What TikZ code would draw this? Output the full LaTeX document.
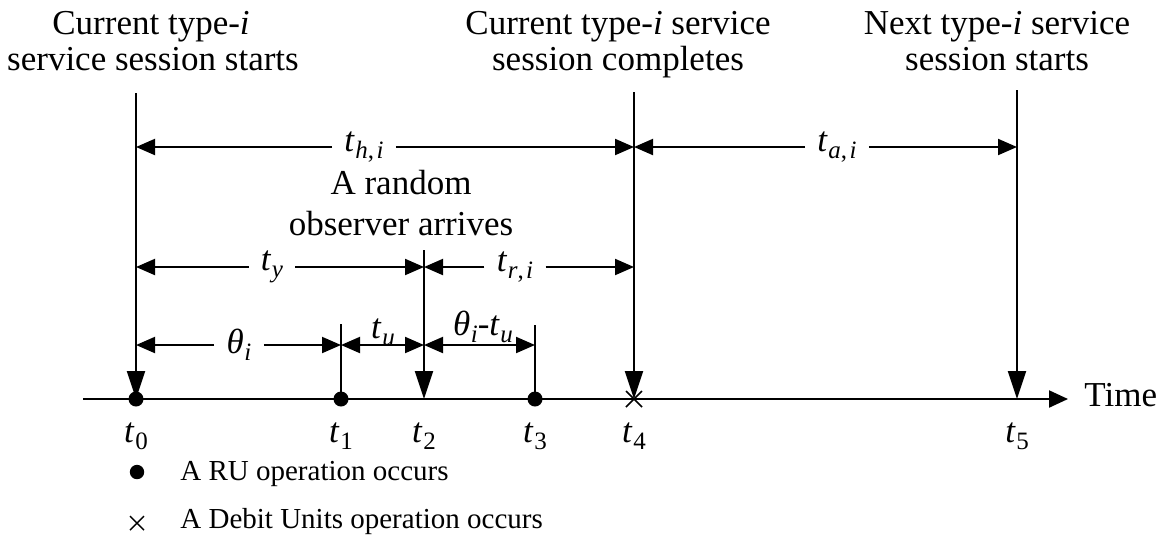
\documentclass[tikz,border=0pt]{standalone}
\usepackage{fontspec}
\setmainfont{Liberation Serif}
\usetikzlibrary{arrows.meta,calc}

% italic symbol with a lowered subscript
\newcommand{\sym}[2]{\textit{#1}\kern0.3pt\raisebox{-0.45ex}{\fontsize{12.5}{12.5}\selectfont #2}}
% comma-separated italic subscript pair
\newcommand{\pair}[2]{\textit{#1},\kern1.2pt\textit{#2}}

\begin{document}
\begin{tikzpicture}[x=0.5pt,y=-0.5pt,
  big/.style={font=\fontsize{17.5}{18}\selectfont},
  small/.style={font=\fontsize{14.5}{15}\selectfont},
  title/.style={big,anchor=base,inner sep=0pt},
  lab/.style={big,inner ysep=0pt,inner xsep=6pt},
  toplab/.style={big,anchor=base,inner sep=0pt},
  ticklab/.style={big,anchor=base,inner sep=0pt},
  axisline/.style={line width=1.1pt,-{Triangle[length=9.5pt,width=8.5pt]}},
  tickline/.style={line width=1pt},
  varr/.style={line width=1pt,-{Triangle[length=14pt,width=9pt]}},
  harr/.style={line width=1pt,-{Triangle[length=9.5pt,width=8pt]}},
  dharr/.style={line width=1pt,{Triangle[length=9.5pt,width=8pt]}-{Triangle[length=9.5pt,width=8pt]}},
  dot/.style={fill=black},
]
\useasboundingbox (0,0) rectangle (1172,537);

% points on the time axis
\coordinate (start) at (83,399);
\coordinate (p0) at (136,399);
\coordinate (p1) at (341,399);
\coordinate (p2) at (424,399);
\coordinate (p3) at (535,399);
\coordinate (p4) at (634,399);
\coordinate (p5) at (1017,399);
\coordinate (tip) at (1068,399);

% upper ends of the event lines
\coordinate (top0) at (136,93);
\coordinate (top1) at (341,324);
\coordinate (top2) at (424,250);
\coordinate (top3) at (535,325);
\coordinate (top4) at (634,92);
\coordinate (top5) at (1017,90);

% heights of the interval arrows
\coordinate (lvA) at (0,147);
\coordinate (lvB) at (0,267);
\coordinate (lvC) at (0,345);

% event captions
\node[title] (c0a) at (151,34) {Current type-\textit{i}};
\node[title] (c0b) at (153,70) {service session starts};
\node[title] (c4a) at (618,34) {Current type-\textit{i} service};
\node[title] (c4b) at (618,70) {session completes};
\node[title] (c5a) at (997,34) {Next type-\textit{i} service};
\node[title] (c5b) at (997,70) {session starts};
\node[title] (obsa) at (401,194) {A random};
\node[title] (obsb) at (401,235) {observer arrives};

% time axis
\draw[axisline] (start) -- (tip);
\node[big,anchor=base west,inner sep=0pt] (time) at (1084,406) {Time};

% event lines
\draw[varr] (top0) -- (p0);
\draw[varr] (top2) -- (p2);
\draw[varr] (top4) -- (p4);
\draw[varr] (top5) -- (p5);
\draw[tickline] (top1) -- (p1);
\draw[tickline] (top3) -- (p3);

% operation markers
\fill[dot] (p0) circle[radius=3.75pt];
\fill[dot] (p1) circle[radius=3.75pt];
\fill[dot] (p3) circle[radius=3.75pt];
\draw[line width=0.8pt] ($(p4)+(-8,-8)$) -- ($(p4)+(8,8)$)
                        ($(p4)+(-8,8)$) -- ($(p4)+(8,-8)$);

% axis labels
\node[ticklab] (l0) at (136,442) {\sym{t}{0}};
\node[ticklab] (l1) at (341,442) {\sym{t}{1}};
\node[ticklab] (l2) at (424,442) {\sym{t}{2}};
\node[ticklab] (l3) at (535,442) {\sym{t}{3}};
\node[ticklab] (l4) at (634,442) {\sym{t}{4}};
\node[ticklab] (l5) at (1017,442) {\sym{t}{5}};

% holding time and inter-arrival time
\node[lab] (th) at (364,147) {\sym{t}{\pair{h}{i}}};
\draw[harr] (th) -- (th -| p0);
\draw[harr] (th) -- (th -| p4);
\node[lab] (ta) at (837,147) {\sym{t}{\pair{a}{i}}};
\draw[harr] (ta) -- (ta -| p4);
\draw[harr] (ta) -- (ta -| p5);

% elapsed and residual time
\node[lab] (ty) at (272,267) {\sym{t}{\textit{y}}};
\draw[harr] (ty) -- (ty -| p0);
\draw[harr] (ty) -- (ty -| p2);
\node[lab] (tr) at (515,267) {\sym{t}{\pair{r}{i}}};
\draw[harr] (tr) -- (tr -| p2);
\draw[harr] (tr) -- (tr -| p4);

% reporting intervals
\node[lab] (th1) at (239,345) {\sym{θ}{\textit{i}}};
\draw[harr] (th1) -- (th1 -| p0);
\draw[harr] (th1) -- (th1 -| p1);
\draw[dharr] (p1 |- lvC) -- (p2 |- lvC);
\node[toplab] (tu) at (383,338) {\sym{t}{\textit{u}}};
\draw[dharr] (p2 |- lvC) -- (p3 |- lvC);
\node[toplab] (tdiff) at (483,335) {\sym{θ}{\textit{i}}-\sym{t}{\textit{u}}};

% legend
\fill[dot] (137,472) circle[radius=3.6pt];
\node[small,anchor=base west,inner sep=0pt] (leg1) at (180,480) {A RU operation occurs};
\draw[line width=0.7pt] (130,516) -- (144,530) (130,530) -- (144,516);
\node[small,anchor=base west,inner sep=0pt] (leg2) at (180,528) {A Debit Units operation occurs};
\end{tikzpicture}
\end{document}
